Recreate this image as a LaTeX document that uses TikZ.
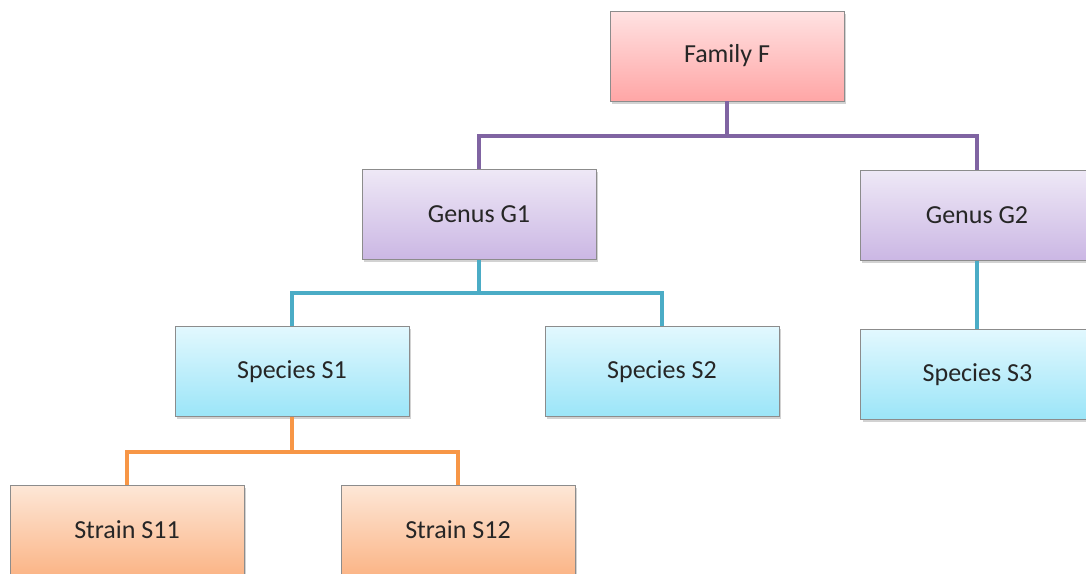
\documentclass[tikz,border=0pt]{standalone}
\usepackage{fontspec}
\setmainfont{Carlito}
\usetikzlibrary{shadows}
\definecolor{famtop}{HTML}{FFE2E2}
\definecolor{fambot}{HTML}{FFA6A6}
\definecolor{gentop}{HTML}{EEE8F6}
\definecolor{genbot}{HTML}{CBB7E4}
\definecolor{spetop}{HTML}{E2F8FE}
\definecolor{spebot}{HTML}{9BE5F8}
\definecolor{strtop}{HTML}{FDE7D7}
\definecolor{strbot}{HTML}{FBB587}
\definecolor{boxline}{HTML}{8C8C8C}
\definecolor{linepurple}{HTML}{8064A2}
\definecolor{lineteal}{HTML}{4BACC6}
\definecolor{lineorange}{HTML}{F79646}
\tikzset{
  taxbox/.style={draw=boxline, line width=0.8pt, minimum width=234pt, minimum height=90pt,
    inner sep=0pt, font=\fontsize{26}{30}\selectfont, text=black!85,
    drop shadow={opacity=0.35, shadow xshift=2pt, shadow yshift=-2.5pt}},
  fambox/.style={taxbox, top color=famtop, bottom color=fambot},
  genbox/.style={taxbox, top color=gentop, bottom color=genbot},
  spebox/.style={taxbox, top color=spetop, bottom color=spebot},
  strbox/.style={taxbox, top color=strtop, bottom color=strbot},
  conn/.style={line width=4.5pt, line join=miter, line cap=butt}
}
\begin{document}
\begin{tikzpicture}[x=1pt,y=-1pt]
\useasboundingbox (0,0) rectangle (1086,573);
\clip (0,0) rectangle (1086,573);
\fill[white] (0,0) rectangle (1086,573);
\coordinate (j1) at (727,136);
\coordinate (j2) at (479,293);
\coordinate (j3) at (292,452);
\node[fambox] (F) at (727,56) {Family F};
\node[genbox] (G1) at (479,214.5) {Genus G1};
\node[genbox] (G2) at (977,215.5) {Genus G2};
\node[spebox] (S1) at (292,371.5) {Species S1};
\node[spebox] (S2) at (662,371.5) {Species S2};
\node[spebox] (S3) at (977.5,374.5) {Species S3};
\node[strbox] (T11) at (127,530) {Strain S11};
\node[strbox] (T12) at (458,530) {Strain S12};
\draw[conn, linepurple] (F.south) -- (j1) -| (G1.north);
\draw[conn, linepurple] (j1) -| (G2.north);
\draw[conn, lineteal] (G1.south) -- (j2) -| (S1.north);
\draw[conn, lineteal] (j2) -| (S2.north);
\draw[conn, lineteal] (G2.south) -- (G2.south |- S3.north);
\draw[conn, lineorange] (S1.south) -- (j3) -| (T11.north);
\draw[conn, lineorange] (j3) -| (T12.north);
\end{tikzpicture}
\end{document}
